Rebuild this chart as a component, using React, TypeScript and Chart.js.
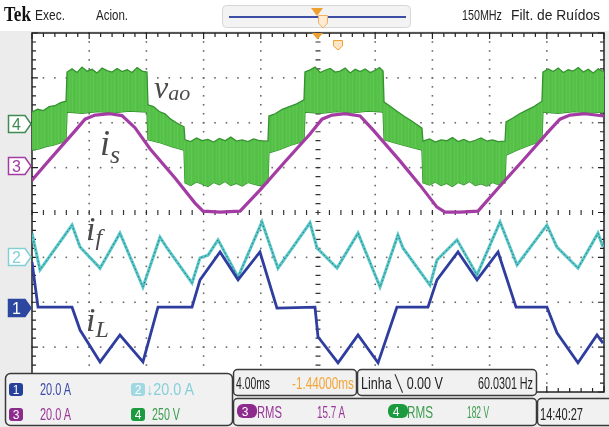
import React, { useEffect, useRef } from "react";
import { Chart, registerables } from "chart.js";

Chart.register(...registerables);

const WIDTH = 609;
const HEIGHT = 427;

// Horizontal axis: time in ms (4.00 ms/div, 10 divisions). Vertical axis: screen position in divisions (-4..4).
const timeMajor = [0, 4, 8, 12, 16, 20, 24, 28, 32, 36, 40];
const divMajor = [-4, -3, -2, -1, 0, 1, 2, 3, 4];

// Ch4 v_ao (green PWM band): upper and lower envelopes
const vaoUpperTime = [
  0, 0.4, 0.8, 1.2, 1.6, 2.0, 2.38,
  2.45, 2.8, 3.15, 3.5, 3.85, 4.2, 4.55, 4.9, 5.25, 5.6, 5.95, 6.3, 6.65, 7.0, 7.35, 7.7, 8.04,
  8.11, 8.5, 8.9, 9.3, 9.7, 10.1, 10.63,
  10.7, 11.1, 11.5, 11.9, 12.3, 12.7, 13.1, 13.5, 13.9, 14.3, 14.7, 15.1, 15.5, 15.9, 16.5,
  16.57, 17.0, 17.5, 18.0, 18.5, 19.02,
  19.09, 19.45, 19.8, 20.15, 20.5, 20.85, 21.2, 21.55, 21.9, 22.25, 22.6, 22.95, 23.3, 23.65, 24.0, 24.3, 24.55,
  24.62, 25.0, 25.5, 26.0, 26.5, 27.27,
  27.34, 27.8, 28.2, 28.6, 29.0, 29.4, 29.8, 30.2, 30.6, 31.0, 31.4, 31.8, 32.2, 32.6, 33.08,
  33.15, 33.6, 34.1, 34.6, 35.1, 35.66,
  35.73, 36.1, 36.45, 36.8, 37.15, 37.5, 37.85, 38.2, 38.55, 38.9, 39.25, 39.6, 40,
];
const vaoUpperDiv = [
  2.24, 2.3, 2.27, 2.36, 2.38, 2.45, 2.48,
  3.13, 3.2, 3.12, 3.24, 3.15, 3.19, 3.11, 3.22, 3.16, 3.13, 3.21, 3.14, 3.18, 3.12, 3.23, 3.15, 3.13,
  2.4, 2.36, 2.25, 2.2, 2.08, 2.0, 1.91,
  1.62, 1.58, 1.66, 1.6, 1.63, 1.57, 1.65, 1.6, 1.68, 1.59, 1.62, 1.58, 1.64, 1.6, 1.59,
  2.15, 2.2, 2.3, 2.36, 2.42, 2.51,
  3.13, 3.18, 3.24, 3.12, 3.17, 3.21, 3.13, 3.15, 3.22, 3.11, 3.19, 3.14, 3.2, 3.12, 3.17, 3.23, 3.15,
  2.46, 2.38, 2.26, 2.15, 2.05, 1.88,
  1.59, 1.64, 1.57, 1.62, 1.6, 1.67, 1.58, 1.63, 1.57, 1.61, 1.66, 1.59, 1.62, 1.58, 1.59,
  2.02, 2.1, 2.2, 2.28, 2.36, 2.48,
  3.13, 3.2, 3.14, 3.22, 3.12, 3.18, 3.15, 3.23, 3.13, 3.19, 3.11, 3.2, 3.13,
];
const vaoLowerTime = [
  0, 0.5, 1.0, 1.5, 2.0, 2.38,
  2.45, 3.5, 4.6, 5.7, 6.8, 8.04,
  8.11, 9.0, 9.8, 10.63,
  10.7, 11.1, 11.5, 11.9, 12.3, 12.7, 13.1, 13.5, 13.9, 14.3, 14.7, 15.1, 15.5, 15.9, 16.5,
  16.57, 17.3, 18.1, 19.02,
  19.09, 20.2, 21.3, 22.4, 23.5, 24.55,
  24.62, 25.5, 26.4, 27.27,
  27.34, 27.8, 28.2, 28.6, 29.0, 29.4, 29.8, 30.2, 30.6, 31.0, 31.4, 31.8, 32.2, 32.6, 33.08,
  33.15, 34.0, 34.8, 35.66,
  35.73, 36.8, 37.9, 39.0, 40,
];
const vaoLowerDiv = [
  1.39, 1.42, 1.47, 1.5, 1.55, 1.59,
  2.24, 2.21, 2.25, 2.22, 2.26, 2.24,
  1.62, 1.55, 1.46, 1.39,
  0.66, 0.6, 0.68, 0.63, 0.58, 0.67, 0.62, 0.69, 0.6, 0.65, 0.59, 0.67, 0.63, 0.6, 0.66,
  1.33, 1.4, 1.5, 1.59,
  2.24, 2.21, 2.25, 2.22, 2.26, 2.24,
  1.62, 1.54, 1.46, 1.39,
  0.66, 0.61, 0.68, 0.6, 0.65, 0.58, 0.67, 0.62, 0.69, 0.6, 0.64, 0.59, 0.67, 0.62, 0.66,
  1.28, 1.4, 1.5, 1.59,
  2.24, 2.21, 2.25, 2.22, 2.24,
];

// Ch3 i_s (magenta)
const isTime = [0, 0.91, 1.96, 3.01, 3.71, 4.41, 5.45, 6.29, 7.2, 8.25, 10.0, 11.4, 11.96, 13.15, 14.55, 15.94, 17.69, 19.44, 20.28, 20.98, 21.89, 22.94, 23.85, 25.73, 27.13, 28.32, 28.88, 29.93, 31.19, 32.73, 34.47, 36.22, 36.92, 37.62, 38.67, 40];
const isDiv = [0.72, 1.06, 1.44, 1.82, 2.08, 2.17, 2.2, 2.16, 1.89, 1.42, 0.77, 0.21, 0.03, 0.01, 0.03, 0.5, 1.13, 1.75, 2.08, 2.17, 2.2, 2.15, 1.84, 1.15, 0.61, 0.12, 0.01, 0.01, 0.03, 0.59, 1.21, 1.84, 2.08, 2.17, 2.2, 2.15];

// Ch2 i_f (cyan)
const ifTime = [0, 0.56, 2.8, 3.36, 4.76, 6.15, 7.76, 8.95, 9.44, 11.19, 11.75, 12.31, 13.01, 14.41, 16.08, 17.2, 18.74, 19.44, 19.93, 21.33, 22.8, 24.34, 25.59, 25.94, 27.83, 28.32, 29.72, 31.12, 32.73, 33.92, 36.01, 36.71, 38.18, 39.58, 39.93];
const ifDiv = [-0.46, -1.28, -0.28, -0.77, -1.24, -0.46, -1.66, -0.55, -0.79, -1.57, -1.01, -0.95, -0.61, -1.44, -0.21, -1.24, -0.55, -0.23, -0.79, -1.24, -0.46, -1.66, -0.5, -0.79, -1.62, -1.06, -0.61, -1.39, -0.21, -1.17, -0.28, -0.77, -1.24, -0.46, -0.77];

// Ch1 i_L (blue)
const ilTime = [0, 0.42, 2.8, 3.36, 4.76, 6.15, 7.76, 8.81, 11.19, 11.75, 13.15, 14.41, 15.94, 17.13, 19.79, 20.0, 21.4, 22.8, 24.2, 25.52, 27.69, 28.32, 29.79, 31.12, 32.59, 33.85, 36.01, 36.71, 38.18, 39.51, 39.93];
const ilDiv = [-1.1, -2.11, -2.11, -2.62, -3.33, -2.73, -3.33, -2.11, -2.11, -1.5, -0.88, -1.5, -0.88, -2.13, -2.11, -2.77, -3.35, -2.73, -3.35, -2.11, -2.11, -1.5, -0.88, -1.5, -0.88, -2.11, -2.11, -2.68, -3.35, -2.73, -2.91];

const pairs = (t: number[], v: number[]) => t.map((x, i) => ({ x, y: v[i] }));

const narrow = "'Liberation Sans Narrow', 'Arial Narrow', 'Liberation Sans', sans-serif";
const serif = "'Liberation Serif', 'DejaVu Serif', serif";

const gridPlugin = {
  id: "scopeGrid",
  beforeDraw(chart: any) {
    const { ctx, chartArea: a } = chart;
    ctx.save();
    ctx.fillStyle = "#ececec";
    ctx.fillRect(0, 0, WIDTH, HEIGHT);
    ctx.fillStyle = "#ffffff";
    ctx.fillRect(0, 0, WIDTH, 31);
    ctx.fillRect(a.left, a.top, a.right - a.left, a.bottom - a.top);
    ctx.restore();
  },
  beforeDatasetsDraw(chart: any) {
    const { ctx, chartArea: a } = chart;
    const xs = chart.scales.x;
    const ys = chart.scales.y;
    ctx.save();
    ctx.fillStyle = "#6a6a6a";
    for (const t of timeMajor) {
      if (t === 0 || t === 40 || t === 20) continue;
      const px = xs.getPixelForValue(t);
      for (let k = 0; k <= 40; k++) {
        const py = ys.getPixelForValue(-4 + k * 0.2);
        ctx.fillRect(px - 0.8, py - 0.8, 1.6, 1.6);
      }
    }
    for (const d of divMajor) {
      if (d === -4 || d === 4 || d === 0) continue;
      const py = ys.getPixelForValue(d);
      for (let k = 0; k <= 50; k++) {
        const px = xs.getPixelForValue(k * 0.8);
        ctx.fillRect(px - 0.8, py - 0.8, 1.6, 1.6);
      }
    }
    ctx.strokeStyle = "#333";
    ctx.lineWidth = 1.2;
    const cx = xs.getPixelForValue(20);
    const cy = ys.getPixelForValue(0);
    ctx.beginPath();
    for (let k = 0; k <= 40; k++) {
      const py = ys.getPixelForValue(-4 + k * 0.2);
      ctx.moveTo(cx - 2.5, py);
      ctx.lineTo(cx + 2.5, py);
    }
    for (let k = 0; k <= 50; k++) {
      const px = xs.getPixelForValue(k * 0.8);
      ctx.moveTo(px, cy - 2.5);
      ctx.lineTo(px, cy + 2.5);
    }
    ctx.stroke();
    ctx.lineWidth = 1.5;
    ctx.strokeStyle = "#222";
    ctx.strokeRect(a.left, a.top, a.right - a.left, a.bottom - a.top);
    ctx.lineWidth = 1.2;
    ctx.beginPath();
    for (let k = 0; k <= 50; k++) {
      const px = xs.getPixelForValue(k * 0.8);
      const len = k % 5 === 0 ? 6 : 4;
      ctx.moveTo(px, a.top);
      ctx.lineTo(px, a.top + len);
      ctx.moveTo(px, a.bottom);
      ctx.lineTo(px, a.bottom - len);
    }
    for (let k = 0; k <= 40; k++) {
      const py = ys.getPixelForValue(-4 + k * 0.2);
      const len = k % 5 === 0 ? 6 : 4;
      ctx.moveTo(a.left, py);
      ctx.lineTo(a.left + len, py);
      ctx.moveTo(a.right, py);
      ctx.lineTo(a.right - len, py);
    }
    ctx.stroke();
    ctx.restore();
  },
};

function Badge({ x, y, w, fill, label }: { x: number; y: number; w: number; fill: string; label: string }) {
  return (
    <g>
      <rect x={x} y={y} width={w} height={13} rx={3} fill={fill} />
      <text x={x + 7} y={y + 11} fontSize={12} fill="#fff" textAnchor="middle" fontFamily={narrow}>
        {label}
      </text>
    </g>
  );
}

function Marker({ cy, color, filled, label }: { cy: number; color: string; filled: boolean; label: string }) {
  const d = `M8.5,${cy - 8.5} H25 L31,${cy} L25,${cy + 8.5} H8.5 Z`;
  return (
    <g>
      <path d={d} fill={filled ? color : "#ffffff"} stroke={color} strokeWidth={1.5} />
      <text x={16.5} y={cy + 6} fontSize={16} fill={filled ? "#fff" : color} textAnchor="middle" fontFamily={narrow}>
        {label}
      </text>
    </g>
  );
}

export default function App() {
  const canvasRef = useRef<HTMLCanvasElement>(null);

  useEffect(() => {
    const canvas = canvasRef.current;
    if (!canvas) return;
    const pc = document.createElement("canvas");
    pc.width = 14;
    pc.height = 4;
    const pctx = pc.getContext("2d")!;
    const stripes = ["#56c148", "#56c148", "#5fc651", "#56c148", "#53be45", "#56c148", "#5ac44c", "#56c148", "#56c148", "#62c854", "#56c148", "#53bf45", "#56c148", "#5bc44d"];
    stripes.forEach((c, i) => {
      pctx.fillStyle = c;
      pctx.fillRect(i, 0, 1, 4);
    });
    const pattern = canvas.getContext("2d")!.createPattern(pc, "repeat") || "#56c148";

    const chart = new Chart(canvas, {
      type: "line",
      data: {
        datasets: [
          { label: "i_s", data: pairs(isTime, isDiv), borderColor: "#a33ca3", borderWidth: 3.2, pointRadius: 0, tension: 0, fill: false },
          { label: "i_L", data: pairs(ilTime, ilDiv), borderColor: "#2f3d9e", borderWidth: 2.8, pointRadius: 0, tension: 0, fill: false },
          { label: "i_f edge", data: pairs(ifTime, ifDiv), borderColor: "rgba(30,90,95,0.75)", borderWidth: 1, borderDash: [1.5, 2.5], pointRadius: 0, tension: 0, fill: false },
          { label: "i_f", data: pairs(ifTime, ifDiv), borderColor: "#58c7c9", borderWidth: 3, pointRadius: 0, tension: 0, fill: false },
          { label: "v_ao upper", data: pairs(vaoUpperTime, vaoUpperDiv), borderColor: "#34922f", borderWidth: 1.3, pointRadius: 0, tension: 0, fill: "+1", backgroundColor: pattern as any },
          { label: "v_ao lower", data: pairs(vaoLowerTime, vaoLowerDiv), borderColor: "#34922f", borderWidth: 1.3, pointRadius: 0, tension: 0, fill: false },
        ],
      },
      options: {
        animation: false,
        responsive: false,
        maintainAspectRatio: false,
        devicePixelRatio: 1,
        layout: { padding: { left: 32, right: 5, top: 33, bottom: 35 } },
        scales: {
          x: { type: "linear", min: 0, max: 40, display: false },
          y: { type: "linear", min: -4, max: 4, display: false },
        },
        plugins: { legend: { display: false }, tooltip: { enabled: false } },
        events: [],
      },
      plugins: [gridPlugin],
    });
    return () => chart.destroy();
  }, []);

  const t15 = { fontSize: 16, fontFamily: narrow, lengthAdjust: "spacingAndGlyphs" } as const;

  return (
    <div style={{ position: "fixed", left: 0, top: 0, width: WIDTH, height: HEIGHT, overflow: "hidden", background: "#fff" }}>
      <canvas ref={canvasRef} width={WIDTH} height={HEIGHT} style={{ position: "absolute", left: 0, top: 0, width: WIDTH, height: HEIGHT }} />
      <svg width={WIDTH} height={HEIGHT} style={{ position: "absolute", left: 0, top: 0, pointerEvents: "none" }}>
        {/* header */}
        <text x={4} y={21} fontSize={20} fontWeight="bold" fontFamily={serif} fill="#111" textLength={27} lengthAdjust="spacingAndGlyphs">Tek</text>
        <text x={35} y={20} fontSize={14} fontFamily={narrow} fill="#222" textLength={30} lengthAdjust="spacingAndGlyphs">Exec.</text>
        <text x={96} y={20} fontSize={14} fontFamily={narrow} fill="#222" textLength={32} lengthAdjust="spacingAndGlyphs">Acion.</text>
        <text x={462} y={20} fontSize={14} fontFamily={narrow} fill="#222" textLength={40} lengthAdjust="spacingAndGlyphs">150MHz</text>
        <text x={511} y={20} fontSize={14} fontFamily={narrow} fill="#222" textLength={89} lengthAdjust="spacingAndGlyphs">Filt. de Ruídos</text>
        <rect x={222.5} y={5.5} width={188} height={22} rx={4} fill="#f3f3f3" stroke="#d6d6d6" />
        <line x1={229} y1={17} x2={406} y2={17} stroke="#3d4fa5" strokeWidth={2} />
        <polygon points="311,8 323,8 317,16" fill="#f0a030" />
        <path d="M318.5,15.5 H327.5 V23 L323,28 L318.5,23 Z" fill="#fdebd3" stroke="#f3b062" />
        <polygon points="312,33 323,33 317.5,39.5" fill="#f0a030" />
        <path d="M333.5,40.5 H342.5 V46 L338,50 L333.5,46 Z" fill="#fde5c8" stroke="#f0a030" />

        {/* channel markers */}
        <Marker cy={124} color="#3f8c52" filled={false} label="4" />
        <Marker cy={166} color="#a23ba2" filled={false} label="3" />
        <Marker cy={257} color="#84ced6" filled={false} label="2" />
        <Marker cy={308} color="#2d47a0" filled={true} label="1" />

        {/* trace labels */}
        <text x={154} y={98} fontSize={32} fontStyle="italic" fontFamily={serif} fill="#4a4a4a">
          v<tspan fontSize={22} dy={2}>ao</tspan>
        </text>
        <text x={100} y={155} fontSize={36} fontStyle="italic" fontFamily={serif} fill="#4a4a4a">
          i<tspan fontSize={26} dy={8}>s</tspan>
        </text>
        <text x={86} y={240} fontSize={34} fontStyle="italic" fontFamily={serif} fill="#4a4a4a">
          i<tspan fontSize={24} dy={5}>f</tspan>
        </text>
        <text x={86} y={331} fontSize={34} fontStyle="italic" fontFamily={serif} fill="#4a4a4a">
          i<tspan fontSize={24} dy={6}>L</tspan>
        </text>

        {/* bottom info boxes */}
        <rect x={5.5} y={373.5} width={227} height={52} rx={5} fill="#f1f1f1" stroke="#3a3a3a" strokeWidth={1.5} />
        <Badge x={9} y={383} w={14} fill="#25419a" label="1" />
        <text x={40} y={395} {...t15} fill="#3b4aa8" textLength={31}>20.0 A</text>
        <Badge x={131} y={383} w={14} fill="#9fd8e0" label="2" />
        <text x={146} y={395} {...t15} fill="#86d0da" textLength={48}>↓20.0 A</text>
        <Badge x={9} y={408} w={14} fill="#8c2b8c" label="3" />
        <text x={40} y={420} {...t15} fill="#9a3598" textLength={31}>20.0 A</text>
        <Badge x={131} y={408} w={14} fill="#1c9a3e" label="4" />
        <text x={152} y={420} {...t15} fill="#3c9c4f" textLength={28}>250 V</text>

        <rect x={233.5} y={369.5} width={123} height={26} rx={4} fill="#f1f1f1" stroke="#3a3a3a" strokeWidth={1.5} />
        <text x={236} y={389} {...t15} fill="#222" textLength={34}>4.00ms</text>
        <text x={292} y={389} {...t15} fill="#f2a535" textLength={62}>-1.44000ms</text>
        <rect x={357.5} y={369.5} width={179} height={26} rx={4} fill="#f1f1f1" stroke="#3a3a3a" strokeWidth={1.5} />
        <text x={361} y={389} {...t15} fill="#222" textLength={82}>Linha ╲ 0.00 V</text>
        <text x={478} y={389} {...t15} fill="#222" textLength={55}>60.0301 Hz</text>

        <rect x={233.5} y={398.5} width={303} height={27} rx={4} fill="#f1f1f1" stroke="#3a3a3a" strokeWidth={1.5} />
        <rect x={237} y={404} width={20} height={14} rx={6} fill="#8c2b8c" />
        <text x={245} y={416} fontSize={12} fontFamily={narrow} fill="#fff" textAnchor="middle">3</text>
        <text x={257} y={418} {...t15} fill="#9a3598" textLength={25}>RMS</text>
        <text x={317} y={418} {...t15} fill="#9a3598" textLength={28}>15.7 A</text>
        <rect x={388} y={404} width={20} height={14} rx={6} fill="#1c9a3e" />
        <text x={396} y={416} fontSize={12} fontFamily={narrow} fill="#fff" textAnchor="middle">4</text>
        <text x={407} y={418} {...t15} fill="#3c9c4f" textLength={26}>RMS</text>
        <text x={467} y={418} {...t15} fill="#3c9c4f" textLength={22}>182 V</text>

        <rect x={537.5} y={398.5} width={75} height={27} rx={4} fill="#f1f1f1" stroke="#3a3a3a" strokeWidth={1.5} />
        <text x={540} y={420} {...t15} fill="#222" textLength={43}>14:40:27</text>
      </svg>
    </div>
  );
}
